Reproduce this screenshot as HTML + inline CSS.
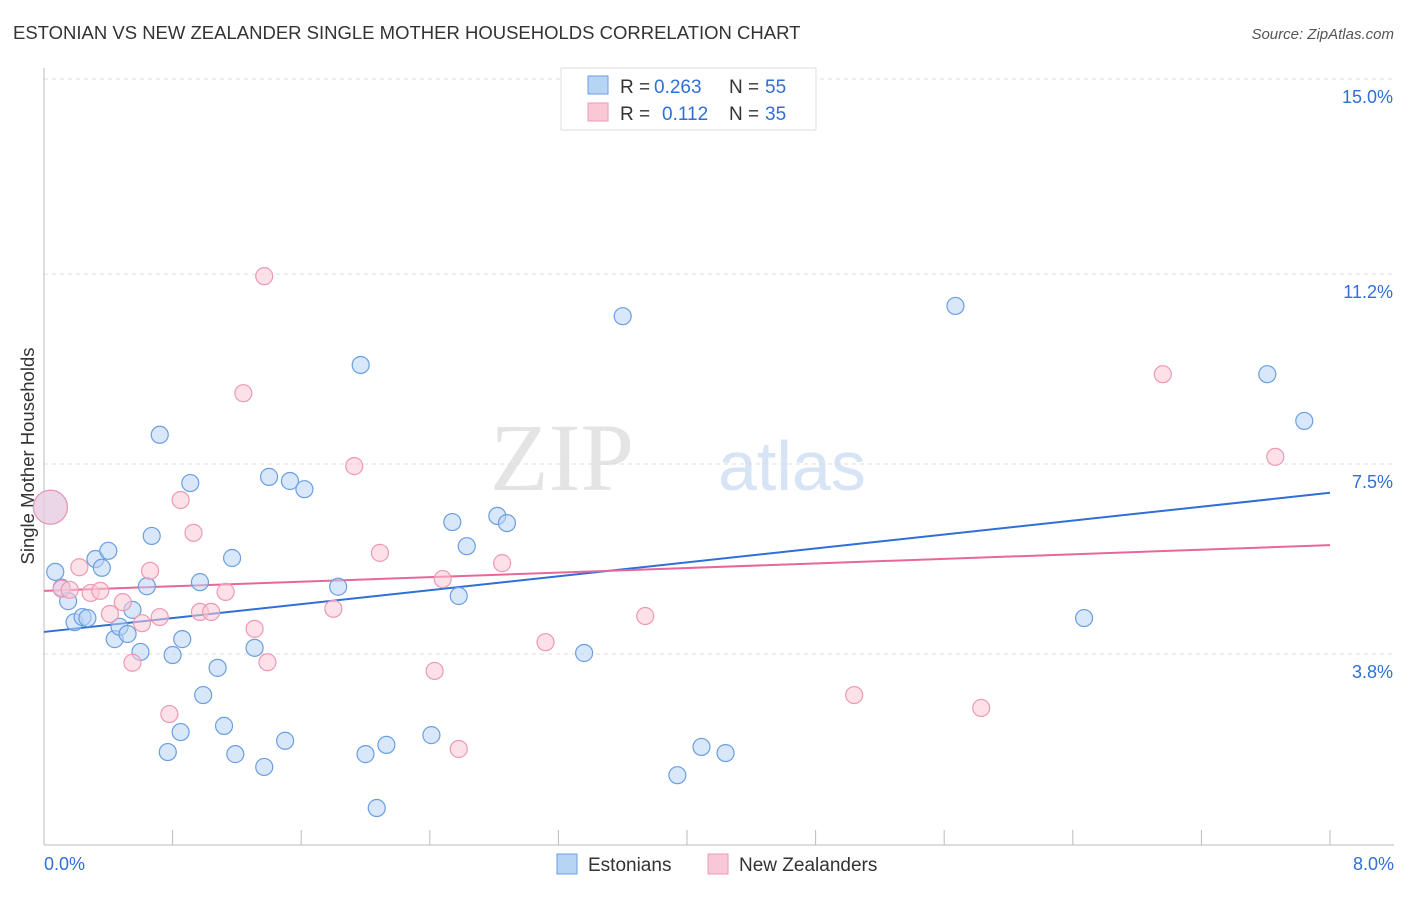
<!DOCTYPE html>
<html><head><meta charset="utf-8"><style>
body{margin:0;background:#fff;font-family:"Liberation Sans",sans-serif}
</style></head><body>
<svg width="1406" height="892" xmlns="http://www.w3.org/2000/svg" id="chart">
<text x="13" y="39" font-size="18.5" fill="#333">ESTONIAN VS NEW ZEALANDER SINGLE MOTHER HOUSEHOLDS CORRELATION CHART</text>
<text x="1394" y="39" font-size="15" fill="#555" font-style="italic" text-anchor="end">Source: ZipAtlas.com</text>
<text x="634" y="490" font-size="96" fill="#e4e4e4" font-family="Liberation Serif" text-anchor="end">ZIP</text>
<text x="718" y="490" font-size="70" fill="#d6e4f5">atlas</text>
<text transform="translate(34,456) rotate(-90)" font-size="18.5" fill="#333" text-anchor="middle">Single Mother Households</text>
<g id="grid"></g><g id="axes"></g><g id="lines"></g><g id="pts"></g>
<g font-size="19">
<rect x="561" y="68" width="255" height="62" fill="#fff" stroke="#ddd"/>
<rect x="588" y="76" width="20" height="18" fill="#b8d4f5" stroke="#6a9fe0"/>
<rect x="588" y="103" width="20" height="18" fill="#f9c8d6" stroke="#ee99b4"/>
<text x="620" y="93" fill="#333">R =</text>
<text x="654" y="93" fill="#2f6fd6">0.263</text>
<text x="729" y="93" fill="#333">N =</text>
<text x="765" y="93" fill="#2f6fd6">55</text>
<text x="620" y="120" fill="#333">R =</text>
<text x="662" y="120" fill="#2f6fd6">0.112</text>
<text x="729" y="120" fill="#333">N =</text>
<text x="765" y="120" fill="#2f6fd6">35</text>
</g>
<g>
<rect x="557" y="854" width="20" height="20" fill="#b8d4f5" stroke="#6a9fe0"/>
<text x="588" y="871" font-size="19" fill="#333">Estonians</text>
<rect x="708" y="854" width="20" height="20" fill="#f9c8d6" stroke="#ee99b4"/>
<text x="739" y="871" font-size="19" fill="#333">New Zealanders</text>
</g>
</svg>
<script>
const yTicks=[15.0,11.2,7.5,3.8];
const yTickLabels=["15.0%","11.2%","7.5%","3.8%"];
const xTickLabels=["0.0%","8.0%"];
const estX=[0.04,0.07,0.11,0.15,0.19,0.24,0.27,0.32,0.36,0.40,0.44,0.47,0.52,0.55,0.60,0.64,0.67,0.72,0.77,0.80,0.85,0.86,0.91,0.97,0.99,1.08,1.12,1.17,1.19,1.31,1.37,1.40,1.50,1.53,1.62,1.83,1.97,2.00,2.07,2.13,2.41,2.54,2.58,2.63,2.82,2.88,3.36,3.60,3.94,4.09,4.24,5.67,6.47,7.61,7.84];
const estY=[6.66,5.40,5.09,4.83,4.42,4.52,4.50,5.65,5.48,5.81,4.09,4.33,4.19,4.66,3.84,5.12,6.10,8.07,1.89,3.78,2.28,4.09,7.13,5.20,3.00,3.53,2.40,5.67,1.85,3.92,1.60,7.25,2.11,7.17,7.01,5.11,9.43,1.85,0.80,2.03,2.22,6.37,4.93,5.90,6.49,6.35,3.82,10.38,1.44,1.99,1.87,10.58,4.50,9.25,8.34];
const nzX=[0.04,0.11,0.16,0.22,0.29,0.35,0.41,0.49,0.55,0.61,0.66,0.72,0.78,0.85,0.93,0.97,1.04,1.13,1.24,1.31,1.37,1.39,1.80,1.93,2.09,2.43,2.48,2.58,2.85,3.12,3.74,5.04,5.83,6.96,7.66];
const nzY=[6.66,5.07,5.05,5.49,4.99,5.03,4.58,4.81,3.63,4.40,5.42,4.52,2.63,6.80,6.16,4.62,4.62,5.01,8.88,4.29,11.16,3.64,4.68,7.46,5.77,3.47,5.26,1.95,5.57,4.03,4.54,3.00,2.75,9.25,7.64];
const estTrend=[4.23,6.94];
const nzTrend=[5.03,5.92];
const NS="http://www.w3.org/2000/svg";
const X=v=>44+v*160.75, Y=v=>79+(15-v)*51.34;
function mk(t,a,p){const e=document.createElementNS(NS,t);for(const k in a)e.setAttribute(k,a[k]);document.getElementById(p).appendChild(e);return e;}
yTicks.forEach((t,i)=>{
 const l=mk('line',{x1:44,x2:1394,y1:Y(t),y2:Y(t),stroke:'#ddd','stroke-dasharray':'4,4'},'grid');
 
 
 const tx=mk('text',{x:1393,y:Y(t)+24,'font-size':18,fill:'#2f6fd6','text-anchor':'end'},'grid');
 tx.textContent=yTickLabels[i];
 
 
});
const ax=mk('line',{x1:44,x2:44,y1:68,y2:845,stroke:'#bbb'},'axes');


const bx=mk('line',{x1:44,x2:1394,y1:845,y2:845,stroke:'#bbb'},'axes');


for(let i=0;i<=10;i++){const t=mk('line',{x1:X(i*0.8),x2:X(i*0.8),y1:830,y2:845,stroke:'#bbb'},'axes');
 
 }
[[0,'start',44],[8,'end',1394]].forEach((d,i)=>{const t=mk('text',{x:d[2],y:870,'font-size':18,fill:'#2f6fd6','text-anchor':d[1]},'axes');t.textContent=xTickLabels[i];
 
 });
function pts(xs,ys,fill,stroke,name){xs.forEach((x,i)=>{const c=mk('circle',{cx:X(x),cy:Y(ys[i]),r:i==0?17:8.5,fill:fill,'fill-opacity':0.55,stroke:stroke,'stroke-width':1.2},'pts');
 
 });}
pts(estX,estY,'#b8d4f5','#6a9fe0','estonian-point');
pts(nzX,nzY,'#f9c8d6','#ee99b4','nz-point');
const l1=mk('line',{x1:X(0),x2:X(8),y1:Y(estTrend[0]),y2:Y(estTrend[1]),stroke:'#2f6fd6','stroke-width':2},'lines');


const l2=mk('line',{x1:X(0),x2:X(8),y1:Y(nzTrend[0]),y2:Y(nzTrend[1]),stroke:'#e8679a','stroke-width':2},'lines');


</script>
</body></html>
